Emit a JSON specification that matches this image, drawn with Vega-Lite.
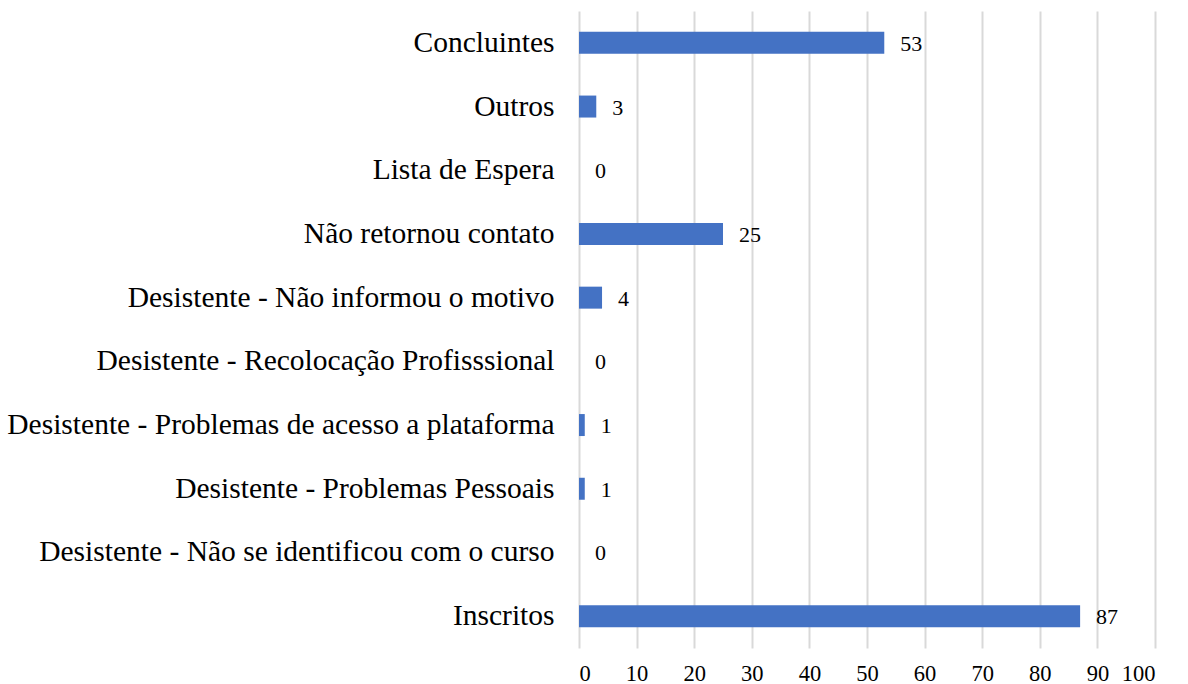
{
  "$schema": "https://vega.github.io/schema/vega-lite/v6.json",
  "width": 576,
  "height": 637,
  "autosize": {"type": "none"},
  "padding": {"left": 579, "top": 11, "right": 33, "bottom": 36},
  "background": "white",
  "config": {"view": {"stroke": null}, "font": "Liberation Serif"},
  "data": {
    "values": [
      {"categoria": "Concluintes", "valor": 53},
      {"categoria": "Outros", "valor": 3},
      {"categoria": "Lista de Espera", "valor": 0},
      {"categoria": "Não retornou contato", "valor": 25},
      {"categoria": "Desistente - Não informou o motivo", "valor": 4},
      {"categoria": "Desistente - Recolocação Profisssional", "valor": 0},
      {"categoria": "Desistente - Problemas de acesso a plataforma", "valor": 1},
      {"categoria": "Desistente - Problemas Pessoais", "valor": 1},
      {"categoria": "Desistente - Não se identificou com o curso", "valor": 0},
      {"categoria": "Inscritos", "valor": 87}
    ]
  },
  "encoding": {
    "y": {
      "field": "categoria",
      "type": "nominal",
      "sort": null,
      "scale": {"paddingInner": 0.655, "paddingOuter": 0.3275},
      "axis": {
        "title": null,
        "domain": false,
        "ticks": false,
        "labelFont": "Liberation Serif",
        "labelFontSize": 29.5,
        "labelColor": "#000000",
        "labelPadding": 25,
        "labelLimit": 0
      }
    },
    "x": {
      "field": "valor",
      "type": "quantitative",
      "scale": {"domain": [0, 100], "nice": false},
      "axis": {
        "title": null,
        "domain": false,
        "ticks": false,
        "values": [0, 10, 20, 30, 40, 50, 60, 70, 80, 90, 100],
        "grid": true,
        "gridColor": "#d9d9d9",
        "gridWidth": 2,
        "labelFont": "Liberation Serif",
        "labelFontSize": 22.5,
        "labelColor": "#000000",
        "labelPadding": 14
      }
    }
  },
  "layer": [
    {"mark": {"type": "bar", "color": "#4472C4"}},
    {
      "mark": {
        "type": "text",
        "align": "left",
        "baseline": "middle",
        "dx": 16,
        "dy": 1,
        "font": "Liberation Serif",
        "fontSize": 22,
        "color": "#000000"
      },
      "encoding": {"text": {"field": "valor", "type": "quantitative"}}
    }
  ]
}
